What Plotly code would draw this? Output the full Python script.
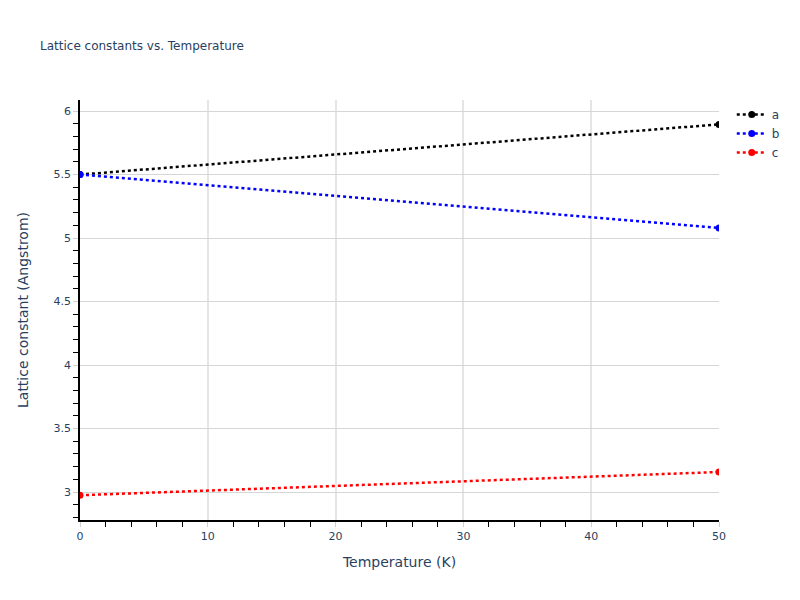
import plotly.graph_objects as go

temperature = [0, 50]
a_values = [5.5, 5.895]
b_values = [5.5, 5.08]
c_values = [2.975, 3.158]

series = [("a", a_values, "black"), ("b", b_values, "blue"), ("c", c_values, "red")]

fig = go.Figure()
for name, vals, color in series:
    fig.add_trace(go.Scatter(
        x=temperature, y=vals, name=name, mode="lines+markers",
        line=dict(color=color, dash="dot", width=2.5),
        marker=dict(color=color, size=7),
    ))

fig.update_layout(
    template="plotly_white",
    width=800, height=600,
    font=dict(family="DejaVu Sans", color="#2a3f5f"),
    title=dict(text="Lattice constants vs. Temperature", font=dict(size=12), x=0.05),
    xaxis_title="Temperature (K)",
    yaxis_title="Lattice constant (Angstrom)",
    plot_bgcolor="white", paper_bgcolor="white",
    margin=dict(l=80, r=81, t=100, b=80),
)
fig.update_xaxes(
    range=[0, 50], showline=True, linecolor="black", linewidth=1.5,
    gridcolor="#e5e5e5", gridwidth=2, zeroline=False,
    ticks="outside", tickcolor="#d0d0d0", ticklen=5, dtick=10,
    tickfont=dict(size=11),
    minor=dict(ticks="outside", tickcolor="black", ticklen=5, dtick=2, showgrid=False),
)
fig.update_yaxes(
    range=[2.78, 6.087], showline=True, linecolor="black", linewidth=1.5,
    gridcolor="#d6d6d6", gridwidth=1, zeroline=False,
    ticks="outside", tickcolor="#d0d0d0", ticklen=5, dtick=0.5,
    tickfont=dict(size=11), title_standoff=22,
    minor=dict(ticks="outside", tickcolor="black", ticklen=5, dtick=0.1, showgrid=False),
)

fig.write_html("out.html", config={"displayModeBar": False},
               post_script="document.body.style.margin='0';")
